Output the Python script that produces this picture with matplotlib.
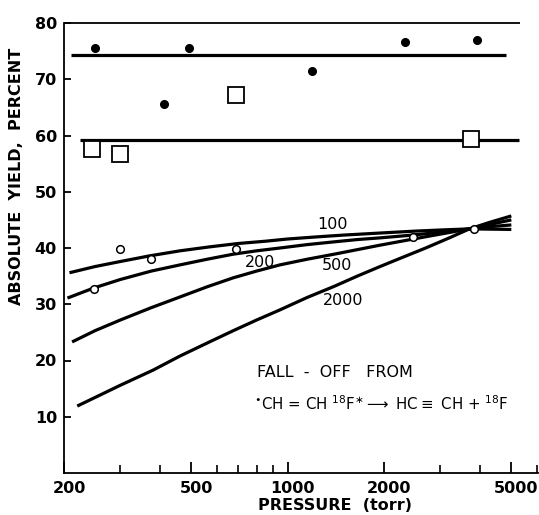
import matplotlib
matplotlib.use("Agg")
import matplotlib.pyplot as plt
import matplotlib.transforms as mtransforms
from matplotlib.ticker import FixedLocator, NullFormatter

plt.rcParams['font.family'] = ['DejaVu Sans']
plt.rcParams['mathtext.fontset'] = 'dejavusans'
plt.rcParams['mathtext.default'] = 'regular'

# ---------------- data ----------------
filled_p = [250, 490, 410, 1190, 2330, 3900]
filled_y = [75.5, 75.5, 65.6, 71.5, 76.6, 76.9]
filled_line_p = [210, 4800]
filled_line_y = [74.3, 74.3]

square_p = [245, 300, 690, 3740]
square_y = [57.6, 56.7, 67.2, 59.4]
square_line_p = [224, 5270]
square_line_y = [59.2, 59.2]

open_p = [248, 300, 375, 690, 2460, 3820]
open_y = [32.8, 39.8, 38.0, 39.8, 42.0, 43.4]

c100_p = [208, 250, 300, 370, 461, 570, 700, 850, 1000, 1250, 1500, 2000, 2500, 3000, 3700, 4300, 5000]
c100_y = [35.6, 36.7, 37.6, 38.6, 39.5, 40.2, 40.8, 41.2, 41.6, 42.0, 42.3, 42.7, 43.0, 43.2, 43.4, 43.35, 43.3]

c200_p = [205, 248, 300, 375, 461, 560, 676, 800, 946, 1150, 1400, 1650, 1943, 2460, 3000, 3700, 4300, 5000]
c200_y = [31.1, 32.9, 34.4, 35.9, 37.0, 38.0, 38.9, 39.5, 40.0, 40.6, 41.1, 41.5, 41.8, 42.3, 42.8, 43.4, 43.8, 44.1]

c500_p = [212, 250, 300, 375, 461, 560, 676, 800, 946, 1150, 1427, 1943, 2700, 3700, 4300, 5000]
c500_y = [23.3, 25.3, 27.2, 29.4, 31.3, 33.1, 34.7, 35.9, 37.0, 38.0, 39.0, 40.5, 42.0, 43.4, 44.2, 45.0]

c2000_p = [220, 300, 380, 461, 560, 676, 800, 946, 1150, 1400, 1650, 1943, 2300, 2700, 3200, 3700, 4300, 5000]
c2000_y = [11.9, 15.6, 18.3, 20.8, 23.1, 25.3, 27.2, 29.0, 31.2, 33.2, 35.0, 36.7, 38.4, 40.0, 41.8, 43.4, 44.6, 45.7]

curve_labels = ["100", "200", "500", "2000"]
curve_label_p = [1376, 820, 1427, 1489]
curve_label_y = [44.1, 37.5, 36.8, 30.6]

x_major = [200, 500, 1000, 2000, 5000]
x_major_labels = ["200", "500", "1000", "2000", "5000"]
x_minor = [300, 400, 600, 700, 800, 900, 3000, 4000, 6000]
y_ticks = [10, 20, 30, 40, 50, 60, 70, 80]

# ---------------- figure ----------------
W, H = 539, 515
fig = plt.figure(figsize=(W / 100, H / 100), dpi=100)
ax_left, ax_right, ax_top, ax_bot = 64, 538, 23, 473
ax = fig.add_axes([ax_left / W, 1 - ax_bot / H, (ax_right - ax_left) / W, (ax_bot - ax_top) / H])
ax.set_xscale('log')
ax.set_xlim(200, 6058)
ax.set_ylim(0, 80)

lw = 2.3
ax.plot(filled_line_p, filled_line_y, color='black', lw=lw, solid_capstyle='butt')
ax.plot(square_line_p, square_line_y, color='black', lw=lw, solid_capstyle='butt')
for px, py in [(c100_p, c100_y), (c200_p, c200_y), (c500_p, c500_y), (c2000_p, c2000_y)]:
    ax.plot(px, py, color='black', lw=lw, solid_capstyle='butt', solid_joinstyle='round')

ax.plot(filled_p, filled_y, 'o', color='black', ms=5.5, zorder=5)
ax.plot(square_p, square_y, 's', mfc='white', mec='black', mew=1.3, ms=11, zorder=5)
ax.plot(open_p, open_y, 'o', mfc='white', mec='black', mew=1.1, ms=5.5, zorder=5)

for t, px, py in zip(curve_labels, curve_label_p, curve_label_y):
    ax.text(px, py, t, ha='center', va='center', fontsize=11.5, color='black', zorder=6)

ax.text(802, 17.8, "FALL  -  OFF   FROM", ha='left', va='center', fontsize=11.5)
chem = r"$^{\bullet}$CH = CH $^{18}$F$^{\ast}$$\longrightarrow$ HC$\equiv$ CH + $^{18}$F"
ax.text(785, 12.3, chem, ha='left', va='center', fontsize=10.8)

# spines
ax.spines['right'].set_visible(False)
ax.spines['top'].set_visible(False)
ax.spines['left'].set_linewidth(1.3)
ax.spines['bottom'].set_linewidth(1.3)
ax.plot([200, 5340], [80, 80], color='black', lw=1.3, clip_on=False, solid_capstyle='butt')

# ticks
ax.xaxis.set_major_locator(FixedLocator(x_major))
ax.set_xticklabels(x_major_labels)
ax.xaxis.set_minor_locator(FixedLocator(x_minor))
ax.xaxis.set_minor_formatter(NullFormatter())
ax.set_yticks(y_ticks)
ax.tick_params(axis='x', which='major', direction='in', length=8, width=1.3, labelsize=11.5, pad=6)
ax.tick_params(axis='x', which='minor', direction='in', length=6, width=1.2)
ax.tick_params(axis='y', which='major', direction='in', length=5, width=1.3, labelsize=11.5, pad=5)
ax.tick_params(axis='y', which='minor', left=False)
for lab in ax.get_xticklabels() + ax.get_yticklabels():
    lab.set_fontweight('bold')
offset = mtransforms.ScaledTranslation(5 / 100, 0, fig.dpi_scale_trans)
for lab in ax.get_xticklabels():
    lab.set_transform(lab.get_transform() + offset)

fig.text(17 / W, 1 - 176 / H, "ABSOLUTE  YIELD,  PERCENT", rotation=90, ha='center', va='center',
         fontsize=11.5, fontweight='bold')
fig.text(335 / W, 1 - 506 / H, "PRESSURE  (torr)", ha='center', va='center',
         fontsize=11.5, fontweight='bold')

fig.savefig("out.png", dpi=100, facecolor='white')
